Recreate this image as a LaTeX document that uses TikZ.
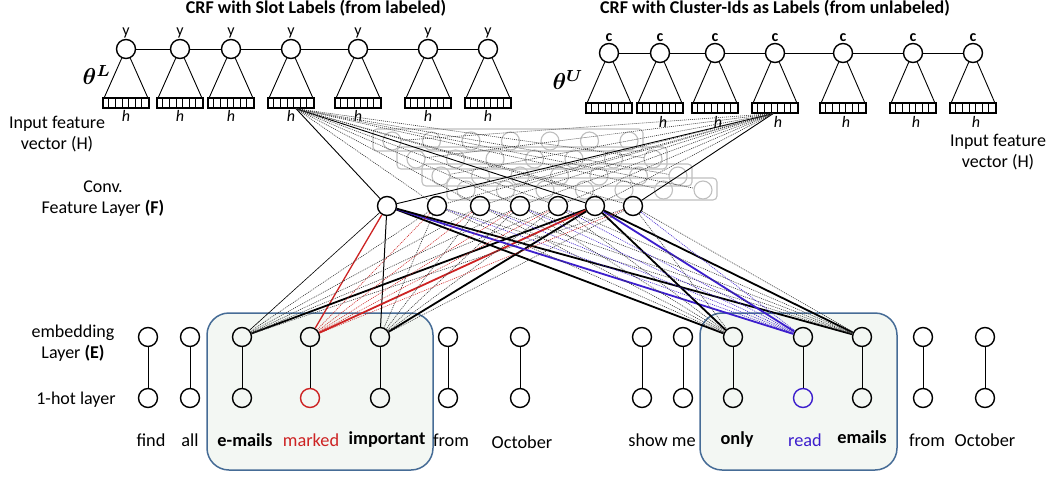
\documentclass[tikz,border=0pt]{standalone}
\usepackage{amsmath}
\usepackage{bm}
\usepackage{fontspec}
\setmainfont{Carlito}
\usetikzlibrary{positioning}

\definecolor{wRed}{RGB}{205,35,35}
\definecolor{wBlue}{RGB}{60,30,205}
\definecolor{boxFill}{RGB}{243,247,243}
\definecolor{boxEdge}{RGB}{70,108,150}

\begin{document}
\begin{tikzpicture}[
  x=1pt, y=-1pt,
  % --- node styles ---
  unit/.style={circle, draw=#1, line width=1.4pt,
               minimum size=19pt, inner sep=0pt},
  unit/.default=black,
  ghost/.style={circle, draw=gray!50, line width=1.1pt,
                minimum size=18pt, inner sep=0pt},
  mapbox/.style={draw=gray!50, line width=1.1pt, rounded corners=4pt},
  fbox/.style={rectangle, draw, line width=1.3pt, minimum width=46pt,
               minimum height=10pt, inner sep=0pt},
  word/.style={font=\fontsize{18.3}{21}\selectfont, inner sep=1pt},
  side/.style={font=\fontsize{18}{21}\selectfont, align=center},
  tag/.style={font=\fontsize{16}{18}\selectfont, inner sep=0pt},
  crftitle/.style={font=\fontsize{18}{21}\selectfont\bfseries},
  param/.style={scale=2.3, inner sep=0pt},
  wordgroup/.style={draw=boxEdge, fill=boxFill, line width=1.5pt,
                    rounded corners=22pt},
  % --- connector styles ---
  tie/.style={line width=0.9pt},
  strong/.style={line width=1.8pt, draw=#1},
  strong/.default=black,
  weak/.style={line width=0.6pt, dash pattern=on 1pt off 1pt, draw=#1},
  weak/.default=black!80,
]
  \useasboundingbox (0,0) rectangle (1055,477);

  % --- Word groups (background) ---
  \draw[wordgroup] (207,313) rectangle (433,470);
  \draw[wordgroup] (700,313) rectangle (897,470);

  % --- Titles ---
  \node[crftitle] (titleL) at (316,8) {CRF with Slot Labels (from labeled)};
  \node[crftitle] (titleU) at (775,8) {CRF with Cluster-Ids as Labels (from unlabeled)};

  % --- CRF over slot labels ---
  \foreach \i/\x in {1/126,2/180,3/231,4/291,5/358,6/428,7/488} {
    \node[unit] (yl\i) at (\x,49) {};
    \node[fbox] (hl\i) at (\x,103) {};
    \node[tag, above=1pt of yl\i] {y};
    \node[tag, below=2pt of hl\i] {\textit{h}};
    \draw[tie] (yl\i.245) -- ([xshift=2pt]hl\i.north west);
    \draw[tie] (yl\i.295) -- ([xshift=-2pt]hl\i.north east);
    \foreach \k in {1,...,6}
      \draw[line width=0.9pt] ([xshift=\k*6.57pt]hl\i.north west)
        -- ([xshift=\k*6.57pt]hl\i.south west);
  }
  \foreach \i/\j in {1/2,2/3,3/4,4/5,5/6,6/7}
    \draw[tie] (yl\i) -- (yl\j);
  \node[param] (thetaL) at (97,75) {$\bm{\theta}^{\bm{L}}$};

  % --- CRF over cluster ids ---
  \foreach \i/\x in {1/609,2/660,3/715,4/775,5/843,6/913,7/973} {
    \node[unit] (yu\i) at (\x,53) {};
    \node[fbox] (hu\i) at (\x,108) {};
    \node[tag, above=1pt of yu\i] {\textbf{c}};
    \draw[tie] (yu\i.245) -- ([xshift=2pt]hu\i.north west);
    \draw[tie] (yu\i.295) -- ([xshift=-2pt]hu\i.north east);
    \foreach \k in {1,...,6}
      \draw[line width=0.9pt] ([xshift=\k*6.57pt]hu\i.north west)
        -- ([xshift=\k*6.57pt]hu\i.south west);
  }
  \foreach \i in {2,...,7}
    \node[tag, below=3pt of hu\i, xshift=3pt] {\textit{h}};
  \foreach \i/\j in {1/2,2/3,3/4,4/5,5/6,6/7}
    \draw[tie] (yu\i) -- (yu\j);
  \node[param] (thetaU) at (568,80) {$\bm{\theta}^{\bm{U}}$};

  % --- Side labels ---
  \node[side] (inL) at (57,134) {Input feature\\vector (H)};
  \node[side] (inU) at (998,152) {Input feature\\vector (H)};
  \node[side] (convlab) at (103,199) {Conv.\\Feature Layer \textbf{(F)}};
  \node[side] (emblab) at (73,343) {embedding\\Layer \textbf{(E)}};
  \node[side] (hotlab) at (76,400) {1-hot layer};

  % --- Other feature maps (greyed, stacked) ---
  \foreach \m/\lx/\ty in {A/373/129,B/397/147,C/422/164,D/447/178} {
    \draw[mapbox] (\lx,\ty) rectangle ++(270,22);
    \foreach \k in {1,...,7}
      \node[ghost] (g\m\k) at ({\lx+19+(\k-1)*39.5},{\ty+12}) {};
  }

  % --- Convolutional feature layer ---
  \foreach \i/\x in {1/387,2/437,3/480,4/520,5/558,6/595,7/633}
    \node[unit] (f\i) at (\x,206) {};

  % --- Words, embeddings, 1-hot units ---
  \foreach \i/\x in {1/148,2/190,3/242,4/310,5/380,6/448,7/520,
                     8/642,9/683,10/733,11/803,12/862,13/923,14/985} {
    \node[unit] (e\i) at (\x,337) {};
  }
  \foreach \i/\x/\c in {1/148/black,2/190/black,3/242/black,4/310/wRed,
                        5/380/black,6/448/black,7/520/black,8/642/black,
                        9/683/black,10/733/black,11/803/wBlue,12/862/black,
                        13/923/black,14/985/black} {
    \node[unit=\c] (o\i) at (\x,398) {};
    \draw[tie] (e\i) -- (o\i);
  }
  \node[word] (w1) at (151,440) {find};
  \node[word] (w2) at (190,440) {all};
  \node[word] (w3) at (245,440) {\textbf{e-mails}};
  \node[word, text=wRed] (w4) at (311,440) {marked};
  \node[word] (w5) at (387,440) {\textbf{important}};
  \node[word] (w6) at (451,440) {from};
  \node[word] (w7) at (522,442) {October};
  \node[word] (w8) at (662,440) {show me};
  \node[word] (w10) at (737,440) {\textbf{only}};
  \node[word, text=wBlue] (w11) at (805,440) {read};
  \node[word] (w12) at (862,437) {\textbf{emails}};
  \node[word] (w13) at (927,440) {from};
  \node[word] (w14) at (985,440) {October};

  % --- Input features -> conv layer ---
  \coordinate (fanL) at ([xshift=5pt]hl4.south);
  \coordinate (fanU) at ([xshift=-2pt]hu4.south);
  \draw[tie] (fanL) -- (f1);
  \draw[tie] (fanL) -- (f6);
  \draw[tie] (fanU) -- (f1);
  \draw[tie] (fanU) -- (f7);
  \foreach \j in {2,3,4,5,7}
    \draw[weak] (fanL) -- (f\j);
  \foreach \j in {2,3,4,5,6}
    \draw[weak] (fanU) -- (f\j);
  \foreach \g in {gD4,gD6,gD7,gC7,gB7}
    \draw[weak] (fanL) -- (\g);
  \foreach \g in {gA1,gB1,gC1,gD1,gD2}
    \draw[weak] (fanU) -- (\g);

  % --- Conv layer -> marked-up words ---
  \draw[line width=0.6pt] (f1) -- (e3);
  \draw[line width=1.3pt, wRed] (f1) -- (e4);
  \draw[line width=1pt] (f1) -- (e5);
  \draw[strong] (f6) -- (e3);
  \draw[strong=wRed] (f6) -- (e4);
  \draw[strong] (f6) -- (e5);
  \foreach \j in {1,6} {
    \draw[strong] (f\j) -- (e10);
    \draw[strong=wBlue] (f\j) -- (e11);
    \draw[strong] (f\j) -- (e12);
  }
  \foreach \j in {2,3,4,5,7} {
    \draw[weak] (f\j) -- (e3);
    \draw[weak=wRed] (f\j) -- (e4);
    \draw[weak] (f\j) -- (e5);
    \draw[weak] (f\j) -- (e10);
    \draw[weak=wBlue] (f\j) -- (e11);
    \draw[weak] (f\j) -- (e12);
  }
\end{tikzpicture}
\end{document}
